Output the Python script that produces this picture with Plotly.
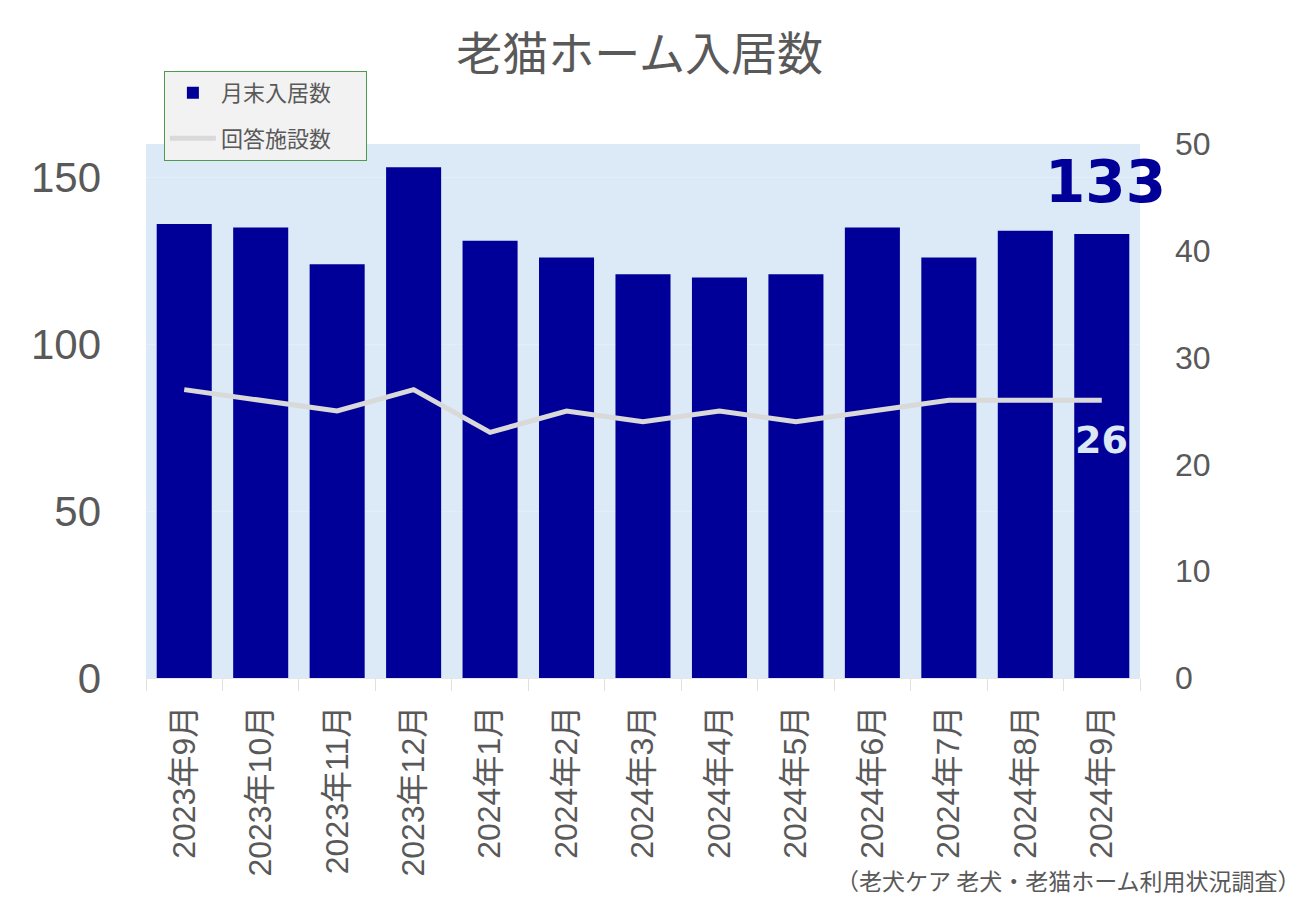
import plotly.graph_objects as go

categories = ["2023年9月", "2023年10月", "2023年11月", "2023年12月", "2024年1月", "2024年2月",
              "2024年3月", "2024年4月", "2024年5月", "2024年6月", "2024年7月", "2024年8月", "2024年9月"]
residents = [136, 135, 124, 153, 131, 126, 121, 120, 121, 135, 126, 134, 133]
facilities = [27, 26, 25, 27, 23, 25, 24, 25, 24, 25, 26, 26, 26]
left_ticks = [0, 50, 100, 150]
right_ticks = [0, 10, 20, 30, 40, 50]

GRAY = "#595959"
FONT = "Liberation Sans, Noto Sans CJK JP, sans-serif"
PAD = "\u00a0" * 6

fig = go.Figure()
fig.add_trace(go.Bar(
    x=categories, y=residents, name="月末入居数" + PAD,
    marker=dict(color="#000099", line=dict(width=0)),
    legendgroup="a",
))
fig.add_trace(go.Scatter(
    x=categories, y=facilities, name="回答施設数" + PAD, yaxis="y2",
    mode="lines", line=dict(color="#d9d9d9", width=5),
    legendgroup="b",
))

fig.add_annotation(x=categories[-1], y=residents[-1], xref="x", yref="y",
                   text="<b>%d</b>" % residents[-1], showarrow=False,
                   xanchor="right", yanchor="middle", xshift=66, yshift=52,
                   font=dict(family="DejaVu Sans", size=58, color="#000099"))
fig.add_annotation(x=categories[-1], y=facilities[-1], xref="x", yref="y2",
                   text="<b>%d</b>" % facilities[-1], showarrow=False,
                   xanchor="center", yanchor="middle", yshift=-40,
                   font=dict(family="DejaVu Sans", size=38, color="#dce9f5"))
fig.add_annotation(x=1, y=0, xref="paper", yref="paper", yanchor="middle", xanchor="right",
                   text="（老犬ケア 老犬・老猫ホーム利用状況調査）", showarrow=False,
                   xshift=162, yshift=-202,
                   font=dict(family="Noto Sans CJK JP", size=23, color=GRAY))

fig.update_layout(
    width=1300, height=900,
    margin=dict(l=146, r=160, t=144, b=222),
    paper_bgcolor="white",
    plot_bgcolor="#dce9f7",
    bargap=0.28,
    title=dict(text="老猫ホーム入居数", x=0.492, xanchor="center", y=0.94, yanchor="middle",
               font=dict(family="Noto Sans CJK JP", size=46, color=GRAY)),
    font=dict(family=FONT, color=GRAY),
    showlegend=True,
    legend=dict(x=0.018, y=1.137, xanchor="left", yanchor="top",
                bgcolor="#f2f2f2", bordercolor="#4e9a4e", borderwidth=1,
                font=dict(family="Noto Sans CJK JP", size=22, color=GRAY),
                traceorder="grouped", tracegroupgap=14,
                itemwidth=46),
    xaxis=dict(
        type="category", range=[-0.5, len(categories) - 0.5],
        tickangle=-90, tickfont=dict(size=32, color=GRAY, family=FONT),
        ticks="outside", tickson="boundaries", ticklen=12, tickcolor="#e0e0e0",
        showline=True, linecolor="#e6e6e6", showgrid=False, ticklabelstandoff=14,
    ),
    yaxis=dict(
        range=[0, 160], tickvals=left_ticks, tickfont=dict(size=42, color=GRAY, family=FONT),
        showgrid=True, gridcolor="#e4edf8", gridwidth=1, zeroline=False,
        ticklabelstandoff=44, showline=False,
    ),
    yaxis2=dict(
        range=[0, 50], tickvals=right_ticks, overlaying="y", side="right",
        tickfont=dict(size=32, color=GRAY, family=FONT), showgrid=False, zeroline=False,
        ticklabelstandoff=34,
    ),
)

fig.write_html("out.html")
